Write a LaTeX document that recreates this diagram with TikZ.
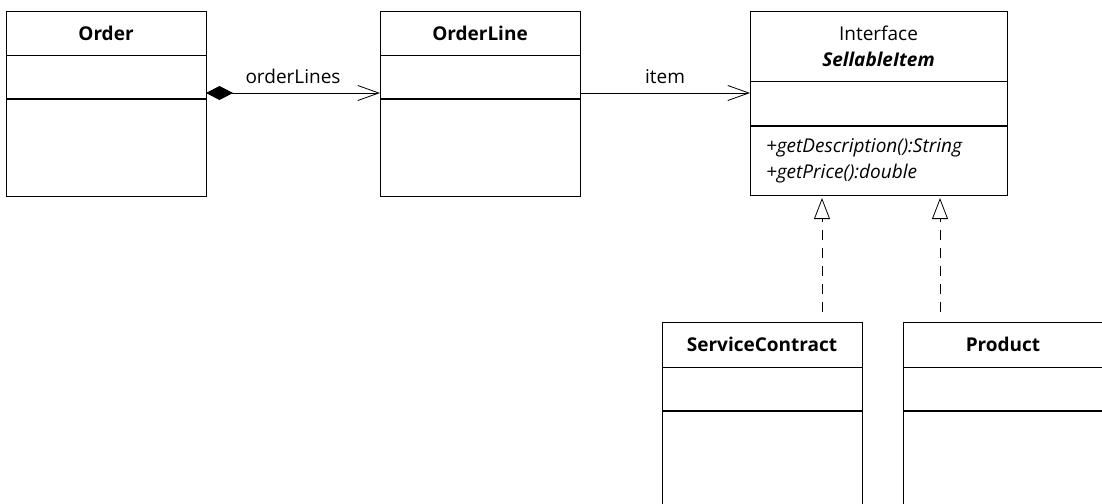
\documentclass[tikz,border=0pt]{standalone}
\usepackage{fontspec}
\setmainfont{Open Sans}
\usetikzlibrary{positioning,arrows.meta}
\newcommand{\umlfont}{\fontsize{19}{26}\selectfont}
\tikzstyle{umlbox}=[draw, line width=0.8pt, inner sep=0pt, outer sep=0pt]
\tikzstyle{classname}=[umlbox, font=\umlfont\bfseries, align=center]
\tikzstyle{opsbox}=[umlbox, align=left, inner xsep=16pt, font=\umlfont\itshape]
\tikzstyle{divider}=[line width=1.4pt]
\tikzstyle{composition}=[line width=0.8pt, {Diamond[length=27pt,width=14pt]}-{Straight Barb[length=21pt,width=15pt,line width=0.8pt]}]
\tikzstyle{association}=[line width=0.8pt, -{Straight Barb[length=21pt,width=15pt,line width=0.8pt]}]
\tikzstyle{realization}=[line width=0.8pt, dash pattern=on 10pt off 8pt, shorten <=10pt, -{Triangle[open,length=21pt,width=16pt,line width=0.8pt]}]
\newcommand{\drawclass}[9]{
% name, x, y, width, title height, attribute height, operation height, title, operations
\pgfmathsetmacro{\w}{#4}
\pgfmathsetmacro{\tw}{#4-32}
\node[classname, minimum width=\w pt, minimum height=#5pt, anchor=north west] (#1) at (#2,#3) {#8};
\node[umlbox, minimum width=\w pt, minimum height=#6pt, below=0pt of #1] (#1-attr) {};
\node[opsbox, text width=\tw pt, minimum height=#7pt, below=0pt of #1-attr] (#1-ops) {#9};
\draw[divider] (#1-ops.north west) -- (#1-ops.north east);
}

\begin{document}
\begin{tikzpicture}[x=1pt,y=-1pt,font=\umlfont]
\useasboundingbox (0,0) rectangle (1102,503);

\drawclass{Order}{6}{11}{200}{44}{44}{97}{Order}{}
\drawclass{OrderLine}{380}{11}{200}{44}{44}{97}{OrderLine}{}
\drawclass{SellableItem}{750}{11}{257}{70}{45}{69}{{\mdseries Interface}\\{\itshape SellableItem}}{+getDescription():String\\+getPrice():double}
\drawclass{ServiceContract}{662}{322}{200}{45}{44}{97}{ServiceContract}{}
\drawclass{Product}{903}{322}{200}{45}{44}{97}{Product}{}

\draw[composition] ([yshift=-16pt]Order-attr.east) -- node[above=6pt] {orderLines} ([yshift=-16pt]OrderLine-attr.west);
\draw[association] ([yshift=-16pt]OrderLine-attr.east) -- node[above=6pt] {item} ([yshift=-16pt]OrderLine-attr.east -| SellableItem.west);

\draw[realization] ([xshift=60pt]ServiceContract.north) -- ([xshift=60pt,yshift=-3pt]ServiceContract.north |- SellableItem-ops.south);
\draw[realization] ([xshift=-63pt]Product.north) -- ([xshift=-63pt,yshift=-3pt]Product.north |- SellableItem-ops.south);
\end{tikzpicture}
\end{document}
